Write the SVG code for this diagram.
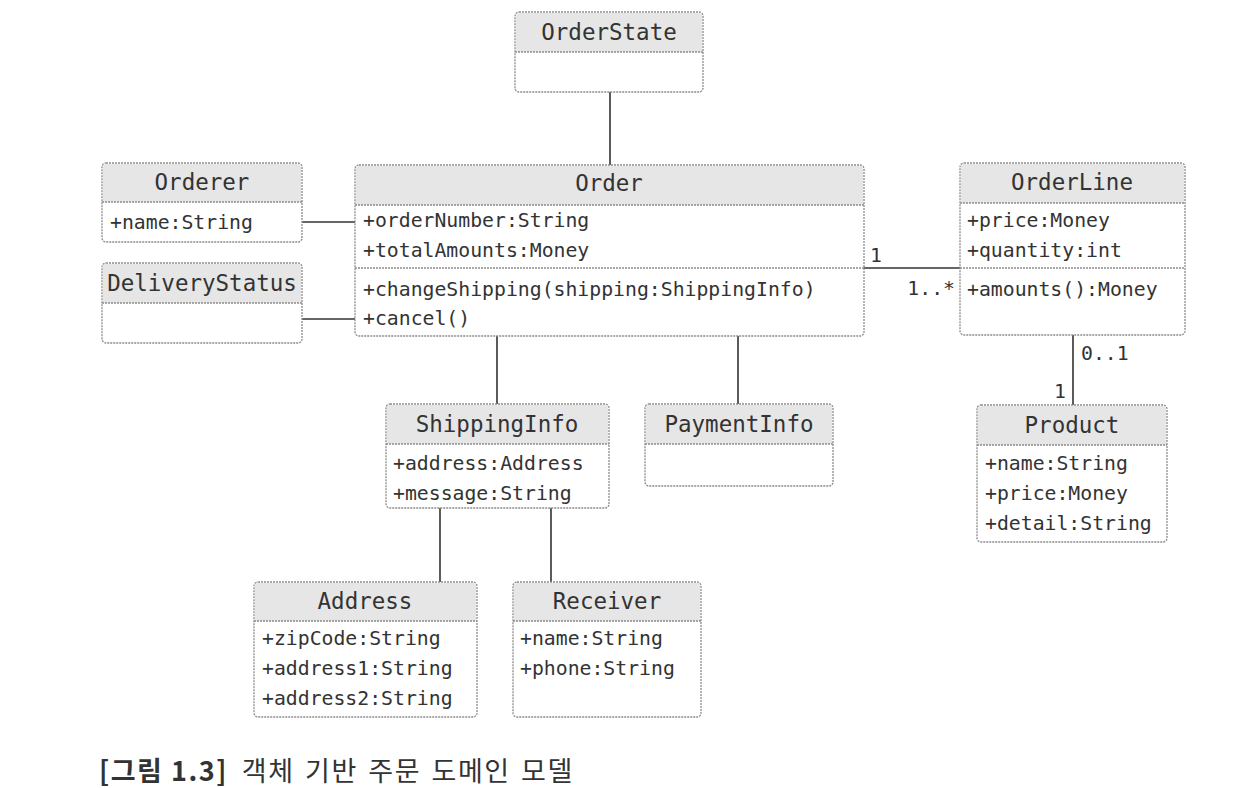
<svg xmlns="http://www.w3.org/2000/svg" width="1240" height="788" viewBox="0 0 1240 788">
<style>
.box{fill:#fff;stroke:#8c8c8c;stroke-width:1.3;stroke-dasharray:2 1}
.hd{fill:#e6e6e6;stroke:none}
.dv{stroke:#8c8c8c;stroke-width:1.3;stroke-dasharray:2 1}
.t{font-family:"DejaVu Sans Mono","Liberation Mono",monospace;font-size:22.5px;fill:#333;text-anchor:middle}
.a{font-family:"DejaVu Sans Mono","Liberation Mono",monospace;font-size:19.8px;fill:#333}
.ln{stroke:#333;stroke-width:1.6;fill:none}
.cap{font-family:"Noto Sans CJK KR","Noto Sans",sans-serif;font-size:27px;fill:#333;letter-spacing:1.5px}
</style>
<rect width="1240" height="788" fill="#fff"/>
<g id="connectors">
<line class="ln" x1="610" y1="92" x2="610" y2="165"/>
<line class="ln" x1="302" y1="222" x2="355" y2="222"/>
<line class="ln" x1="302" y1="319" x2="355" y2="319"/>
<line class="ln" x1="864" y1="268" x2="960" y2="268"/>
<line class="ln" x1="1073" y1="335" x2="1073" y2="405"/>
<line class="ln" x1="497" y1="336" x2="497" y2="404"/>
<line class="ln" x1="738" y1="336" x2="738" y2="404"/>
<line class="ln" x1="440" y1="508" x2="440" y2="582"/>
<line class="ln" x1="551" y1="508" x2="551" y2="582"/>
<text class="a" x="870" y="262">1</text>
<text class="a" x="955" y="295" text-anchor="end">1..*</text>
<text class="a" x="1081" y="360">0..1</text>
<text class="a" x="1066" y="398" text-anchor="end">1</text>
</g>
<g id="OrderState">
<rect class="box" x="515" y="12" width="188" height="80" rx="4"/>
<path class="hd" d="M516,52 V16 Q516,13 519,13 H699 Q702,13 702,16 V52 Z"/>
<line class="dv" x1="515" y1="52" x2="703" y2="52"/>
<text class="t" x="609" y="40">OrderState</text>
</g>
<g id="Orderer">
<rect class="box" x="102" y="163" width="200" height="79" rx="4"/>
<path class="hd" d="M103,202 V167 Q103,164 106,164 H298 Q301,164 301,167 V202 Z"/>
<line class="dv" x1="102" y1="202" x2="302" y2="202"/>
<text class="t" x="202" y="190">Orderer</text>
<text class="a" x="110" y="229">+name:String</text>
</g>
<g id="DeliveryStatus">
<rect class="box" x="102" y="263" width="200" height="80" rx="4"/>
<path class="hd" d="M103,303 V267 Q103,264 106,264 H298 Q301,264 301,267 V303 Z"/>
<line class="dv" x1="102" y1="303" x2="302" y2="303"/>
<text class="t" x="202" y="291">DeliveryStatus</text>
</g>
<g id="Order">
<rect class="box" x="355" y="165" width="509" height="171" rx="4"/>
<path class="hd" d="M356,205 V169 Q356,166 359,166 H860 Q863,166 863,169 V205 Z"/>
<line class="dv" x1="355" y1="205" x2="864" y2="205"/>
<line class="dv" x1="355" y1="268" x2="864" y2="268"/>
<text class="t" x="609" y="191">Order</text>
<text class="a" x="363" y="227">+orderNumber:String</text>
<text class="a" x="363" y="257">+totalAmounts:Money</text>
<text class="a" x="363" y="296">+changeShipping(shipping:ShippingInfo)</text>
<text class="a" x="363" y="325">+cancel()</text>
</g>
<g id="OrderLine">
<rect class="box" x="960" y="163" width="225" height="172" rx="4"/>
<path class="hd" d="M961,203 V167 Q961,164 964,164 H1181 Q1184,164 1184,167 V203 Z"/>
<line class="dv" x1="960" y1="203" x2="1185" y2="203"/>
<line class="dv" x1="960" y1="268" x2="1185" y2="268"/>
<text class="t" x="1072" y="190">OrderLine</text>
<text class="a" x="967" y="227">+price:Money</text>
<text class="a" x="967" y="257">+quantity:int</text>
<text class="a" x="967" y="296">+amounts():Money</text>
</g>
<g id="Product">
<rect class="box" x="977" y="405" width="190" height="137" rx="4"/>
<path class="hd" d="M978,445 V409 Q978,406 981,406 H1163 Q1166,406 1166,409 V445 Z"/>
<line class="dv" x1="977" y1="445" x2="1167" y2="445"/>
<text class="t" x="1072" y="433">Product</text>
<text class="a" x="985" y="470">+name:String</text>
<text class="a" x="985" y="500">+price:Money</text>
<text class="a" x="985" y="530">+detail:String</text>
</g>
<g id="ShippingInfo">
<rect class="box" x="386" y="404" width="223" height="104" rx="4"/>
<path class="hd" d="M387,444 V408 Q387,405 390,405 H605 Q608,405 608,408 V444 Z"/>
<line class="dv" x1="386" y1="444" x2="609" y2="444"/>
<text class="t" x="497" y="432">ShippingInfo</text>
<text class="a" x="393" y="470">+address:Address</text>
<text class="a" x="393" y="500">+message:String</text>
</g>
<g id="PaymentInfo">
<rect class="box" x="645" y="404" width="188" height="82" rx="4"/>
<path class="hd" d="M646,444 V408 Q646,405 649,405 H829 Q832,405 832,408 V444 Z"/>
<line class="dv" x1="645" y1="444" x2="833" y2="444"/>
<text class="t" x="739" y="432">PaymentInfo</text>
</g>
<g id="Address">
<rect class="box" x="254" y="582" width="223" height="135" rx="4"/>
<path class="hd" d="M255,621 V586 Q255,583 258,583 H473 Q476,583 476,586 V621 Z"/>
<line class="dv" x1="254" y1="621" x2="477" y2="621"/>
<text class="t" x="365" y="609">Address</text>
<text class="a" x="262" y="645">+zipCode:String</text>
<text class="a" x="262" y="675">+address1:String</text>
<text class="a" x="262" y="705">+address2:String</text>
</g>
<g id="Receiver">
<rect class="box" x="513" y="582" width="188" height="135" rx="4"/>
<path class="hd" d="M514,621 V586 Q514,583 517,583 H697 Q700,583 700,586 V621 Z"/>
<line class="dv" x1="513" y1="621" x2="701" y2="621"/>
<text class="t" x="607" y="609">Receiver</text>
<text class="a" x="520" y="645">+name:String</text>
<text class="a" x="520" y="675">+phone:String</text>
</g>
<g id="caption">
<text class="cap" x="99" y="781"><tspan font-weight="bold">[그림 1.3]</tspan><tspan dx="14" word-spacing="3">객체 기반 주문 도메인 모델</tspan></text>
</g>
</svg>
